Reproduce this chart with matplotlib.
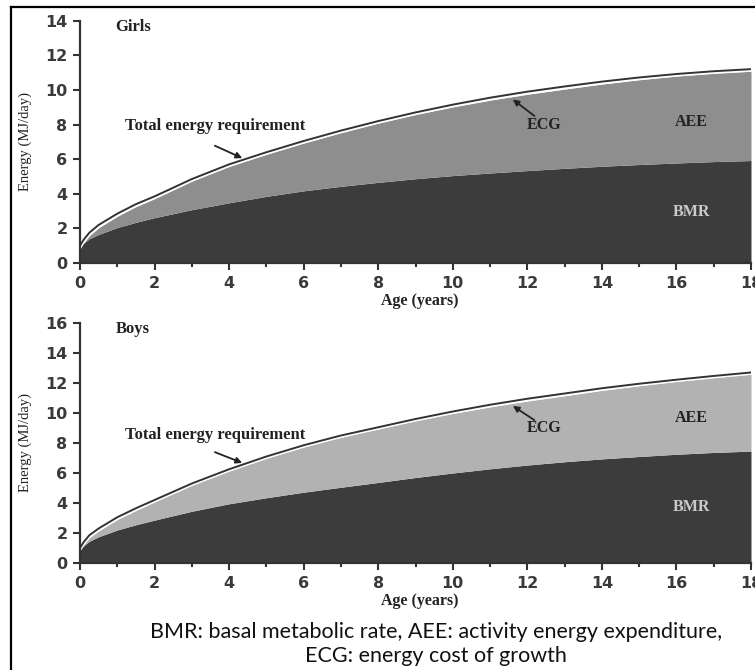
import numpy as np
import matplotlib
matplotlib.use("Agg")
from matplotlib import pyplot as plt
from matplotlib.lines import Line2D

# ages (years) and energy values (MJ/day)
age = [0, 0.1, 0.25, 0.5, 1, 1.5, 2, 3, 4, 5, 6, 7, 8, 9, 10, 11, 12, 13, 14, 15, 16, 17, 18]

girls_total = [1.0, 1.35, 1.75, 2.2, 2.85, 3.4, 3.85, 4.85, 5.7, 6.4, 7.05, 7.65, 8.2,
               8.7, 9.15, 9.55, 9.9, 10.2, 10.48, 10.72, 10.92, 11.08, 11.2]
girls_bmr = [0.9, 1.15, 1.4, 1.65, 2.05, 2.35, 2.62, 3.08, 3.48, 3.85, 4.17, 4.43, 4.66,
             4.87, 5.05, 5.2, 5.34, 5.47, 5.59, 5.69, 5.78, 5.86, 5.92]

boys_total = [1.0, 1.4, 1.85, 2.3, 3.05, 3.65, 4.2, 5.3, 6.25, 7.1, 7.85, 8.5, 9.05,
              9.6, 10.1, 10.55, 10.95, 11.3, 11.65, 11.95, 12.22, 12.47, 12.7]
boys_bmr = [0.9, 1.15, 1.45, 1.75, 2.2, 2.55, 2.86, 3.45, 3.95, 4.35, 4.72, 5.05, 5.37,
            5.7, 6.0, 6.28, 6.53, 6.75, 6.94, 7.1, 7.25, 7.37, 7.46]

# energy cost of growth (thin band just under the total)
ecg = [0.2, 0.18, 0.17, 0.16, 0.15, 0.14, 0.13, 0.12, 0.12, 0.12, 0.12, 0.12, 0.12,
       0.12, 0.13, 0.14, 0.15, 0.15, 0.14, 0.13, 0.12, 0.12, 0.12]

panels = [
    # name, total, bmr, aee colour, ylim, rect
    ("Girls", girls_total, girls_bmr, "#8e8e8e", 14, [80/755, 407/670, 671/755, 242.3/670]),
    ("Boys", boys_total, boys_bmr, "#b2b2b2", 16, [80/755, 107/670, 671/755, 240/670]),
]

serif = "Liberation Serif"
ink = "#222222"

fig = plt.figure(figsize=(7.55, 6.70), dpi=100)

for name, total, bmr, aee_col, ytop, rect in panels:
    ax = fig.add_axes(rect)
    a = np.array(age)
    t = np.array(total)
    b = np.array(bmr)
    e = np.array(ecg)

    ax.fill_between(a, 0, b, color="#3c3c3c", lw=0)
    ax.fill_between(a, b, t - e, color=aee_col, lw=0)
    ax.fill_between(a, t - e, t, color="white", lw=0)
    ax.plot(a, t, color="#333333", lw=1.4)

    ax.set_xlim(0, 18)
    ax.set_ylim(0, ytop)
    ax.set_xticks(range(0, 19, 2))
    ax.set_xticks(range(1, 18, 2), minor=True)
    ax.set_yticks(range(0, ytop + 1, 2))
    for s in ["top", "right"]:
        ax.spines[s].set_visible(False)
    for s in ["left", "bottom"]:
        ax.spines[s].set_linewidth(1.6)
        ax.spines[s].set_color("#333333")
    ax.tick_params(axis="both", which="major", direction="out", length=5, width=1.5,
                   color="#333333", labelsize=11.5, labelcolor="#3a3a3a")
    ax.tick_params(axis="x", which="major", pad=4)
    ax.tick_params(axis="y", which="major", pad=4)
    ax.tick_params(axis="x", which="minor", direction="out", length=3, width=1.5, color="#333333")
    for lab in ax.get_xticklabels() + ax.get_yticklabels():
        lab.set_fontfamily("DejaVu Sans")
        lab.set_fontweight("bold")

    ax.set_ylabel("Energy (MJ/day)", family=serif, fontsize=10.5, color=ink)
    ax.yaxis.set_label_coords(-0.072, 0.5)
    ax.set_xlabel("Age (years)", family=serif, fontsize=11.5, fontweight="bold", color=ink)
    ax.xaxis.set_label_coords(0.507, -0.125)

    ax.text(0.95, ytop * 0.975, name, family=serif, fontsize=12, fontweight="bold",
            color=ink, va="center", ha="left")

    # labels inside the areas
    ax.text(16.4, b[-1] + (t[-1] - b[-1]) * 0.42, "AEE", family=serif, fontsize=11.5,
            fontweight="bold", color=ink, ha="center", va="center")
    ax.text(16.4, b[-1] * 0.5, "BMR", family=serif, fontsize=11.5, fontweight="bold",
            color="#cacaca", ha="center", va="center")

    # total energy requirement arrow
    tip_x = 4.42
    tip_y = np.interp(tip_x, a, t)
    ax.annotate("", xy=(tip_x, tip_y), xytext=(3.55, tip_y + 0.85),
                arrowprops=dict(arrowstyle="-|>", color=ink, lw=1.3, mutation_scale=9))
    ax.text(1.2, tip_y + 1.95, "Total energy requirement", family=serif, fontsize=12,
            fontweight="bold", color=ink, ha="left", va="center")

    # ECG arrow
    ex = 11.55
    ey = np.interp(ex, a, t - e) - 0.05
    ax.annotate("", xy=(ex, ey), xytext=(12.25, ey - 1.15),
                arrowprops=dict(arrowstyle="-|>", color=ink, lw=1.3, mutation_scale=9))
    ax.text(12.45, ey - 1.55, "ECG", family=serif, fontsize=11.5, fontweight="bold",
            color=ink, ha="center", va="center")

# caption
cap_x = 436 / 755
fig.text(cap_x, 1 - 632 / 670, "BMR: basal metabolic rate, AEE: activity energy expenditure,",
         ha="center", va="center", fontsize=15.5, family="Lato", color="#111111")
fig.text(cap_x, 1 - 656 / 670, "ECG: energy cost of growth",
         ha="center", va="center", fontsize=15.5, family="Lato", color="#111111")

# frame (left and top edges of the original box)
fig.add_artist(Line2D([10.5 / 755, 10.5 / 755], [0, 1 - 7 / 670], color="black", lw=1.6,
                      transform=fig.transFigure))
fig.add_artist(Line2D([10.5 / 755, 1], [1 - 7 / 670, 1 - 7 / 670], color="black", lw=1.6,
                      transform=fig.transFigure))

fig.savefig("out.png", dpi=100)
